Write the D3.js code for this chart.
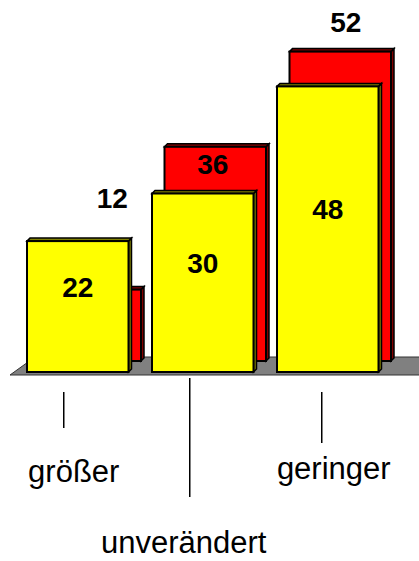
<!DOCTYPE html>
<html>
<head>
<meta charset="utf-8">
<script src="https://cdn.jsdelivr.net/npm/d3@7"></script>
<style>
  body { margin: 0; background: #fff; }
  svg { display: block; font-family: Arial, "Liberation Sans", sans-serif; }
</style>
</head>
<body>
<svg id="chart" width="419" height="561"></svg>
<script>
// data
const categories = ["größer", "unverändert", "geringer"];
const frontValues = [22, 30, 48];   // yellow, front row
const backValues  = [12, 36, 52];   // red, back row

// layout
const svg = d3.select("#chart");
const x = d3.scaleBand()
    .domain(categories)
    .range([27, 381.5])
    .paddingInner(0.164)
    .paddingOuter(0);
const y = d3.scaleLinear()
    .domain([0, 55])
    .range([372, 372 - 55 * 5.95]);
const back = {dx: 12.5, dy: -11};   // offset of the back row
const side = 3;                      // 3d side thickness

// odd excel label placement for the back row
const backLabelShift = [[22, -92], [-2.5, 17], [5.5, -30]];
// staggered category labels
const tickLayout = [
    {dx: -14, y1: 392, y2: 428, ldx: -4,  base: 482},
    {dx: -13, y1: 378, y2: 497, ldx: -19, base: 553},
    {dx: -6,  y1: 392, y2: 443, ldx: 6,   base: 479}
];

// floor
const fy1 = y(0) + 3, fy0 = y(0) + back.dy - 4;
svg.append("polygon")
    .attr("points", [[10, fy1], [35, fy0], [430, fy0], [430, fy1]].map(p => p.join(",")).join(" "))
    .attr("fill", "#808080")
    .attr("stroke", "#333")
    .attr("stroke-width", 1);

function drawBar(g, x0, w, yTop, yBase, fill, dark) {
    // side face
    g.append("polygon")
        .attr("points", [[x0 + w, yTop], [x0 + w + side, yTop - side], [x0 + w + side, yBase - side], [x0 + w, yBase]]
            .map(p => p.join(",")).join(" "))
        .attr("fill", dark).attr("stroke", "#000").attr("stroke-width", 1.5);
    // top face
    g.append("polygon")
        .attr("points", [[x0, yTop], [x0 + side, yTop - side], [x0 + w + side, yTop - side], [x0 + w, yTop]]
            .map(p => p.join(",")).join(" "))
        .attr("fill", dark).attr("stroke", "#000").attr("stroke-width", 1.5);
    g.append("rect")
        .attr("x", x0).attr("y", yTop)
        .attr("width", w).attr("height", yBase - yTop)
        .attr("fill", fill)
        .attr("stroke", "#000")
        .attr("stroke-width", 2);
}

const bw = x.bandwidth() - side;

// back row (red)
const gBack = svg.append("g");
categories.forEach((c, i) => {
    drawBar(gBack, x(c) + back.dx, bw, y(backValues[i]) + back.dy, y(0) + back.dy, "#ff0000", "#800000");
});

// front row (yellow)
const gFront = svg.append("g");
categories.forEach((c, i) => {
    drawBar(gFront, x(c), bw, y(frontValues[i]), y(0), "#ffff00", "#808000");
});

// value labels
svg.append("g").selectAll("text.front")
    .data(frontValues)
    .join("text")
    .attr("x", (d, i) => x(categories[i]) + bw / 2)
    .attr("y", d => (y(d) + y(0)) / 2 - 20 + 10)
    .attr("text-anchor", "middle")
    .attr("font-size", 28)
    .attr("font-weight", "bold")
    .text(d => d);

svg.append("g").selectAll("text.back")
    .data(backValues)
    .join("text")
    .attr("x", (d, i) => x(categories[i]) + back.dx + bw / 2 + backLabelShift[i][0])
    .attr("y", (d, i) => y(d) + back.dy + backLabelShift[i][1] + 10)
    .attr("text-anchor", "middle")
    .attr("font-size", 28)
    .attr("font-weight", "bold")
    .text(d => d);

// category ticks and labels
const gAxis = svg.append("g");
categories.forEach((c, i) => {
    const cx = x(c) + bw / 2, t = tickLayout[i];
    gAxis.append("line")
        .attr("x1", cx + t.dx).attr("x2", cx + t.dx)
        .attr("y1", t.y1).attr("y2", t.y2)
        .attr("stroke", "#000").attr("stroke-width", 1.5);
    gAxis.append("text")
        .attr("x", cx + t.ldx)
        .attr("y", t.base)
        .attr("text-anchor", "middle")
        .attr("font-size", 31)
        .text(c);
});
</script>
</body>
</html>
